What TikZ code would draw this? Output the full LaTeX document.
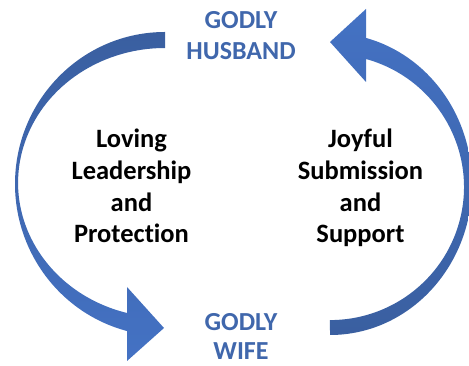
\documentclass[tikz,border=0pt]{standalone}
\usepackage{fontspec}
\setmainfont{Carlito}[Ligatures=NoCommon]
\definecolor{arrowblue}{HTML}{4472C4}
\definecolor{arrowdark}{HTML}{3A5FA0}
\definecolor{textblue}{HTML}{4067AC}
\tikzset{
  bluelbl/.style={anchor=base, inner sep=0pt, align=center, text=textblue,
    font=\fontsize{26}{31.5}\selectfont\bfseries},
  blacklbl/.style={anchor=base, inner sep=0pt, align=center, text=black,
    font=\fontsize{26.5}{31.7}\selectfont\bfseries},
}
\begin{document}
\begin{tikzpicture}[x=1pt,y=1pt]
\useasboundingbox (0,0) rectangle (469,366);
\clip (0,0) rectangle (469,366);
% left curved arrow (husband -> wife)
\shade[top color=arrowdark, middle color=arrowblue, bottom color=arrowblue]
  (165,334) arc[start angle=90, end angle=255.33, x radius=150, y radius=152]
  -- (127,5) -- (164,38) -- (127,79) -- (127,53)
  arc[start angle=254.98, end angle=90, x radius=147, y radius=134.8]
  -- cycle;
% right curved arrow (wife -> husband)
\shade[top color=arrowblue, middle color=arrowblue, bottom color=arrowdark]
  (330,31) arc[start angle=-90, end angle=75.31, x radius=142, y radius=151]
  -- (366,357) -- (330,324) -- (366,284) -- (366,307)
  arc[start angle=74.41, end angle=-90, x radius=134, y radius=133]
  -- cycle;
% labels (base anchor = baseline of the last line)
\node[bluelbl] (husband) at (241,306) {GODLY\\HUSBAND};
\node[bluelbl, font=\fontsize{26}{28.5}\selectfont\bfseries] (wife) at (241,6.5) {GODLY\\WIFE};
\node[blacklbl] (lead) at (131.5,123) {Loving\\Leadership\\and\\Protection};
\node[blacklbl] (sub) at (360.5,123) {Joyful\\Submission\\and\\Support};
\end{tikzpicture}
\end{document}
